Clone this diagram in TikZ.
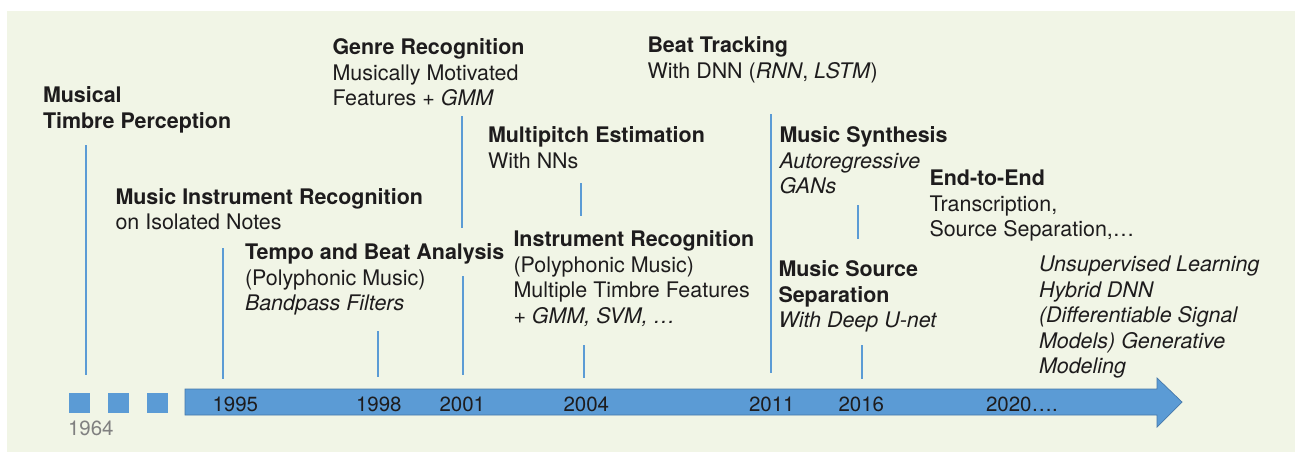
\documentclass[tikz,border=0pt]{standalone}
\usepackage{fontspec}
\setmainfont{TeX Gyre Heros}
\definecolor{bgc}{RGB}{241,245,230}
\definecolor{tlblue}{RGB}{91,155,213}
\definecolor{tlborder}{RGB}{70,120,170}
\definecolor{txt}{RGB}{30,28,29}
\definecolor{yeargray}{RGB}{128,128,128}
\begin{document}
\begin{tikzpicture}[x=1pt,y=-1pt,
  every node/.style={inner sep=0pt, outer sep=0pt, text=txt},
  lbl/.style={anchor=north west, align=left, font=\fontsize{21.45}{25.5}\selectfont},
  yr/.style={anchor=base west, font=\fontsize{20.5}{24}\selectfont},
  tick/.style={draw=tlblue, line width=1.2pt},
  sq/.style={fill=tlblue}]
\useasboundingbox (0,0) rectangle (1298,453);
\fill[white] (0,0) rectangle (1298,453);
\fill[bgc] (7,11) rectangle (1295,452);

% timeline arrow
\filldraw[fill=tlblue, draw=tlborder, line width=0.7pt]
  (185,389) -- (1157,389) -- (1157,378) -- (1182,402) -- (1157,427) -- (1157,415) -- (185,415) -- cycle;
\fill[sq] (69,393) rectangle (90,413);
\fill[sq] (108,393) rectangle (129,413);
\fill[sq] (147,393) rectangle (168,413);

% ticks
\draw[tick] (86,145) -- (86,375);
\draw[tick] (223,248) -- (223,379);
\draw[tick] (378,331) -- (378,377);
\draw[tick] (462,116) -- (462,228);
\draw[tick] (463,276) -- (463,375);
\draw[tick] (581,183) -- (581,216);
\draw[tick] (584,345) -- (584,378);
\draw[tick] (771,114) -- (771,373);
\draw[tick] (858,205) -- (858,239);
\draw[tick] (862,345) -- (862,379);

% years
\node[yr, text=yeargray] (y1964) at (68,435.5) {1964};
\node[yr] (y1995) at (212.5,411) {1995};
\node[yr] (y1998) at (356,411) {1998};
\node[yr] (y2001) at (439.5,411) {2001};
\node[yr] (y2004) at (563.5,411) {2004};
\node[yr] (y2011) at (749,411) {2011};
\node[yr] (y2016) at (838.5,411) {2016};
\node[yr] (y2020) at (986,411) {2020….};

% labels
\node[lbl] (timbre) at (43,87) {\textbf{Musical}\\\textbf{Timbre Perception}};
\node[lbl] (mir) at (115.5,188.5) {\textbf{Music Instrument Recognition}\\on Isolated Notes};
\node[lbl] (tempo) at (245,244) {\textbf{Tempo and Beat Analysis}\\(Polyphonic Music)\\\textit{Bandpass Filters}};
\node[lbl] (genre) at (332.5,39) {\textbf{Genre Recognition}\\Musically Motivated\\Features + \textit{GMM}};
\node[lbl] (multi) at (488,127) {\textbf{Multipitch Estimation}\\With NNs};
\node[lbl] (instr) at (513.5,231) {\textbf{Instrument Recognition}\\(Polyphonic Music)\\Multiple Timbre Features\\\textit{+ GMM, SVM, …}};
\node[lbl] (beat) at (647.5,37) {\textbf{Beat Tracking}\\With DNN (\textit{RNN}, \textit{LSTM})};
\node[lbl] (synth) at (779.5,127) {\textbf{Music Synthesis}\\\textit{Autoregressive}\\\textit{GANs}};
\node[lbl] (sep) at (778.5,261) {\textbf{Music Source}\\\textbf{Separation}\\\textit{With Deep U-net}};
\node[lbl] (e2e) at (929.5,170) {\textbf{End-to-End}\\Transcription,\\Source Separation,…};
\node[lbl, font=\fontsize{21.45}{25.5}\selectfont\itshape] (unsup) at (1039,256)
  {Unsupervised Learning\\Hybrid DNN\\(Differentiable Signal\\Models) Generative\\Modeling};
\end{tikzpicture}
\end{document}
